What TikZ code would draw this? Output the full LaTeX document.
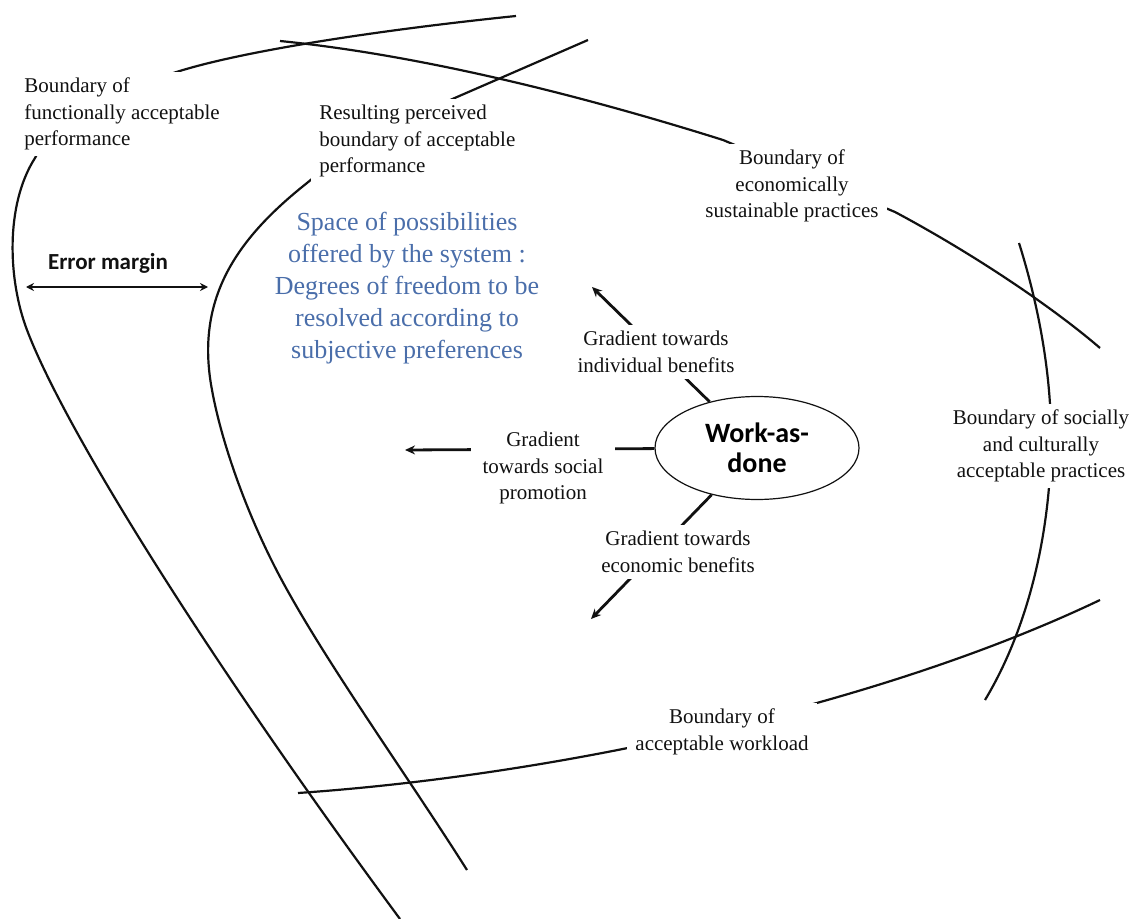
\documentclass[tikz,border=0pt]{standalone}
\usepackage{fontspec}
\setmainfont{Liberation Serif}
\newfontfamily\calibri{Carlito}
\usepackage{xcolor}
\usepackage{tikz}
\usetikzlibrary{shapes.geometric, arrows.meta, positioning, calc}
\definecolor{ink}{HTML}{111111}
\definecolor{spaceblue}{HTML}{4A6EAA}

\begin{document}
\begin{tikzpicture}[
    x=0.5pt, y=-0.5pt,
    boundary/.style={line width=1.1pt, color=ink},
    tag/.style={fill=white, inner xsep=4pt, inner ysep=3pt, align=center, text=ink, font=\fontsize{10.5}{13.4}\selectfont},
    work/.style={draw=ink, ellipse, line width=0.6pt, minimum width=102pt, minimum height=51.5pt, inner sep=0pt, align=center, font=\calibri\bfseries\fontsize{14}{15}\selectfont},
    arrow/.style={-{Stealth[length=5pt, width=4.5pt]}, line width=1.4pt, color=ink},
    margin/.style={{Stealth[length=4pt, width=4pt]}-{Stealth[length=4pt, width=4pt]}, line width=1pt, color=ink}
]
\useasboundingbox (0,0) rectangle (1133,919);

% Boundaries (tags are drawn on top of them)
\draw[boundary] (516,16) .. controls (380,30) and (250,50) .. (183,70)
    .. controls (110,92) and (55,120) .. (35,158)
    .. controls (5,205) and (8,280) .. (27,330)
    .. controls (65,430) and (208,659) .. (400,919);
\draw[boundary] (588,40) -- (457,97)
    .. controls (400,122) and (340,155) .. (307,183)
    .. controls (235,240) and (195,300) .. (212,390)
    .. controls (222,445) and (250,525) .. (290,595)
    .. controls (335,675) and (410,780) .. (467,870);
\draw[boundary] (280,41) .. controls (420,55) and (580,95) .. (723,140)
    -- (895,212) .. controls (970,252) and (1050,305) .. (1100,348);
\draw[boundary] (1019,243) .. controls (1040,310) and (1052,380) .. (1051,445)
    .. controls (1050,530) and (1030,625) .. (985,700);
\draw[boundary] (298,793) .. controls (560,775) and (880,705) .. (1100,600);

\node[tag, anchor=west, align=left] (func) at (16,114) {Boundary of\\functionally acceptable\\performance};
\node[tag, anchor=west, align=left] (perceived) at (311,141) {Resulting perceived\\boundary of acceptable\\performance};
\node[tag] (econ) at (792,186) {Boundary of\\economically\\sustainable practices};
\node[tag] (social) at (1041,446) {Boundary of socially\\and culturally\\acceptable practices};
\node[tag] (load) at (722,732) {Boundary of\\acceptable workload};

% Error margin
\node[font=\calibri\bfseries\fontsize{11.5}{13}\selectfont, text=ink] (errtext) at (108,263) {Error margin};
\coordinate (err-l) at (26,287);
\coordinate (err-r) at (208,287);
\draw[margin] (err-l) -- (err-r);

% Space of possibilities
\node[align=center, text=spaceblue, font=\fontsize{13}{16}\selectfont] (space) at (407,288) {Space of possibilities\\offered by the system :\\Degrees of freedom to be\\resolved according to\\subjective preferences};

% Work-as-done and its gradients
\node[work] (work) at (757,448) {Work-as-\\done};
\coordinate (indiv-tip) at (592,287);
\coordinate (promo-tip) at (405,450);
\coordinate (money-tip) at (591,619);
\draw[arrow] (work) -- (indiv-tip);
\draw[arrow] (work) -- (promo-tip);
\draw[arrow] (work) -- (money-tip);

\node[tag] (indiv) at (656,352) {Gradient towards\\individual benefits};
\node[tag, inner xsep=6pt] (promo) at (543,468) {Gradient\\towards social\\promotion};
\node[tag] (money) at (678,552) {Gradient towards\\economic benefits};

\end{tikzpicture}
\end{document}
